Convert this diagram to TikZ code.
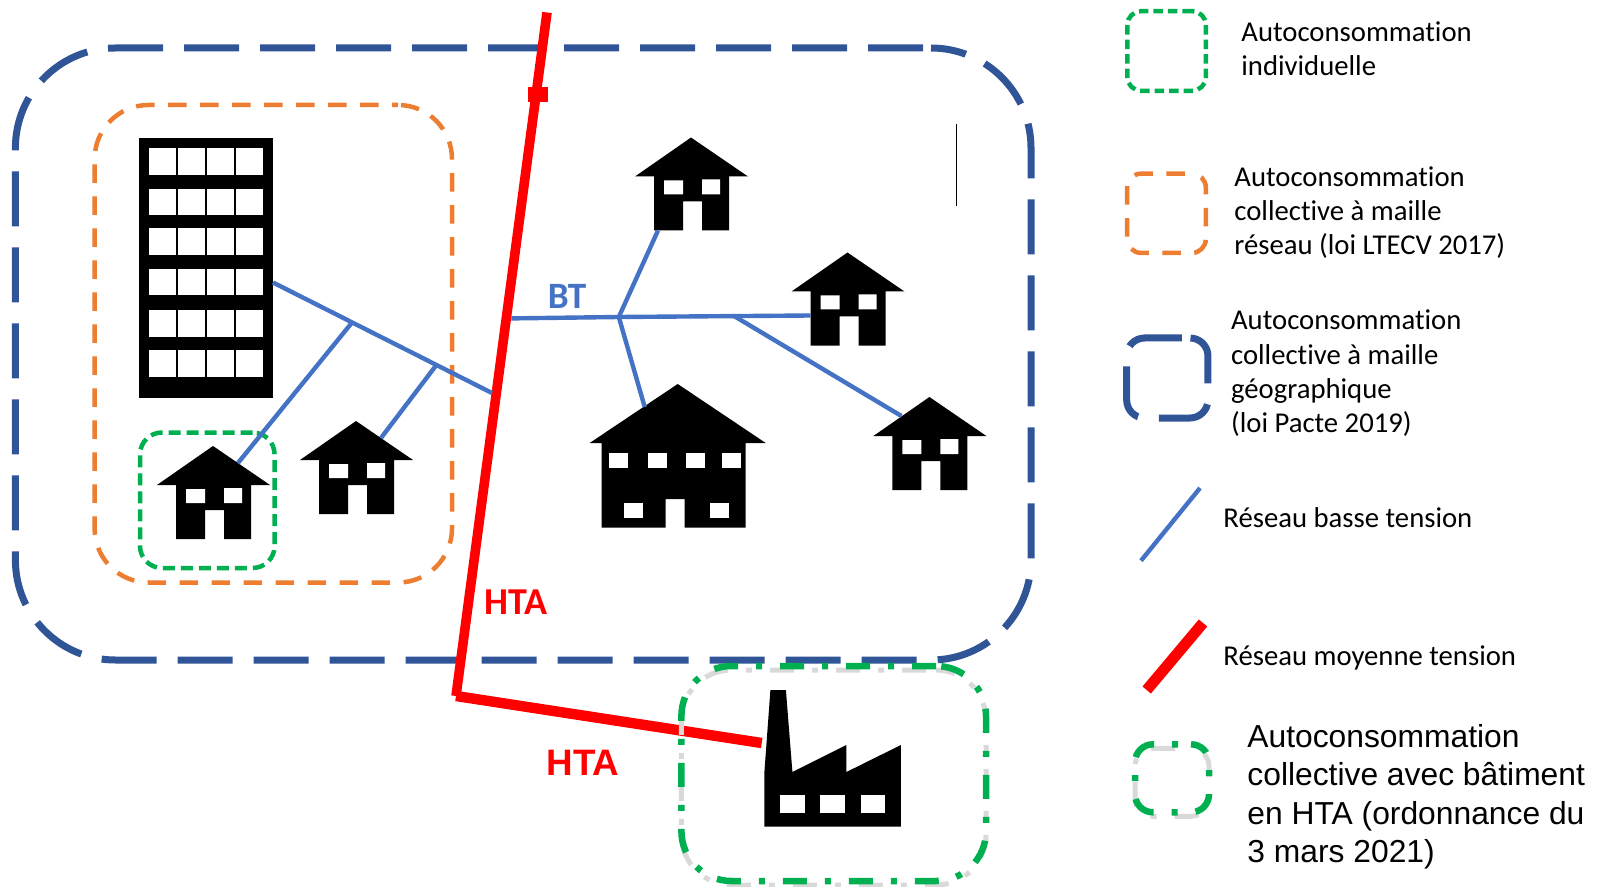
\documentclass[tikz,border=0pt]{standalone}
\usepackage{fontspec}
\setmainfont{Carlito}[Ligatures=NoCommon]
\newfontfamily\arialfont{Liberation Sans}
\definecolor{geoblue}{HTML}{2F5597}
\definecolor{netorange}{HTML}{ED7D31}
\definecolor{selfgreen}{HTML}{00B050}
\definecolor{btblue}{HTML}{4472C4}

\begin{document}
\begin{tikzpicture}[
    x=0.5pt, y=-0.5pt,
    zone/.style={rectangle, inner sep=0pt, outer sep=0pt},
    geozone/.style={zone, draw=geoblue, line width=3.5pt, rounded corners=50pt, dash pattern=on 27.5pt off 10.5pt, dash phase=34pt},
    netzone/.style={zone, draw=netorange, line width=2.25pt, rounded corners=27pt, dash pattern=on 9.25pt off 6.75pt, dash phase=6.25pt},
    indzone/.style={zone, draw=selfgreen, line width=2.25pt, rounded corners=11pt, dash pattern=on 6pt off 3pt},
    htazone/.style 2 args={zone, draw=selfgreen, line width=3.25pt, rounded corners=25pt,
        preaction={draw=gray!30, line width=2.5pt, dash pattern=on 12pt off 9pt on 3pt off 9pt, dash phase=#2, transform canvas={yshift=-2pt}},
        dash pattern=on 12pt off 9pt on 3pt off 9pt, dash phase=#1},
    bt/.style={draw=btblue, line width=2.2pt},
    hta/.style={draw=red, line width=4.8pt},
    keytext/.style={inner sep=0pt, anchor=north west, align=left, font=\fontsize{14.35pt}{17.2pt}\selectfont},
    arialtext/.style={inner sep=0pt, anchor=north west, align=left, font=\arialfont\fontsize{15.9pt}{19.2pt}\selectfont},
    house/.pic={
        \fill (0,0) -- (57,39) -- (38,39) -- (38,93) -- (11,93) -- (11,64) -- (-8,64) -- (-8,93) -- (-37,93) -- (-37,39) -- (-56,39) -- cycle;
        \fill[white] (-27,43) rectangle (-8,57) (11,42) rectangle (29,57);
        \coordinate (-rroof) at (25,17);
        \coordinate (-lroof) at (-28,19);
        \coordinate (-base) at (-33,93);
        \coordinate (-side) at (-37,63);
    },
    bighouse/.pic={
        \fill (0,0) -- (88,59) -- (68,59) -- (68,143.5) -- (7,143.5) -- (7,115) -- (-12,115) -- (-12,143.5) -- (-76,143.5) -- (-76,59) -- (-88,59) -- cycle;
        \foreach \wx in {-69,-30,8,44}
            \fill[white] (\wx,69) rectangle +(19,15);
        \foreach \wx in {-54,32}
            \fill[white] (\wx,118.5) rectangle +(19,15);
        \coordinate (-lroof) at (-33,23);
    },
    factory/.pic={
        \fill (6,0) -- (21.5,0) -- (28,82) -- (82,55) -- (82,82) -- (136.5,55) -- (136.5,136.7) -- (0,136.7) -- (0,82) -- cycle;
        \foreach \wx in {16,56,96.5}
            \fill[white] (\wx,105) rectangle +(24.5,18.3);
        \coordinate (-inlet) at (-2.7,53);
    }
]
\useasboundingbox (0,0) rectangle (1604,887);

% Zones
\node[geozone, minimum width=507.8pt, minimum height=306pt] (geoZone) at (523.2,354) {};
\node[netzone, minimum width=178.7pt, minimum height=238.75pt] (netZone) at (273.3,343.75) {};

% Red line
\coordinate (htaTop) at (547,12.5);
\coordinate (htaBend) at (456,696);
\draw[hta] (htaTop) -- (htaBend);
\node[fill=red, zone, minimum width=10pt, minimum height=7.2pt] (htaTab) at (537.5,94.7) {};

% Buildings
\node[zone, fill=black, minimum width=67pt, minimum height=129.75pt] (tower) at (206,268.25) {};
\foreach \wy in {148.5,189,228.5,269,310.5,350}
    \foreach \wx in {148.6,178,207,236}
        \fill[white] (\wx,\wy) rectangle +(27,26.5);
\pic (houseA) at (213,446) {house};
\pic (houseB) at (356,421) {house};
\pic (houseC) at (691,137.5) {house};
\pic (houseD) at (847.5,252.5) {house};
\pic (houseE) at (929.4,397) {house};
\pic (houseBig) at (677.7,384) {bighouse};
\pic (plant) at (764.4,690) {factory};

\node[indzone, minimum width=67.3pt, minimum height=67.75pt] (selfZone) at (207.3,500.25) {};

% Low voltage lines
\coordinate (btLeft) at (492,393);
\coordinate (btRight) at (511.4,318.4);
\coordinate (joinA) at (352,322.5);
\coordinate (joinB) at (436.4,365);
\coordinate (joinC) at (618.8,317);
\coordinate (joinD) at (734,316);
\draw[bt] (tower.-12) -- (btLeft);
\draw[bt] (joinA) -- (houseA-rroof);
\draw[bt] (joinB) -- (houseB-rroof);
\draw[bt] (btRight) -- (joinC) -- (houseD-side);
\draw[bt] (joinC) -- (houseC-base);
\draw[bt] (joinC) -- (houseBig-lroof);
\draw[bt] (joinD) -- (houseE-lroof);

% Line to the plant
\draw[hta, line width=5.2pt, preaction={draw=gray!35, transform canvas={yshift=-1.5pt}}] (htaBend) -- (plant-inlet);
\node[htazone={0pt}{28pt}, minimum width=152.3pt, minimum height=107.5pt] (plantZone) at (833.7,773.5) {};

% Labels
\node[text=btblue, font=\bfseries\fontsize{18.6pt}{20pt}\selectfont, inner sep=0pt] (btLabel) at (567,296) {BT};
\node[text=red, font=\bfseries\fontsize{19pt}{20pt}\selectfont, inner sep=0pt] (htaLabelA) at (516,602) {HTA};
\node[text=red, font=\arialfont\bfseries\fontsize{18.4pt}{20pt}\selectfont, inner sep=0pt] (htaLabelB) at (583,763) {HTA};

% Stray mark
\coordinate (markTop) at (956.3,124);
\coordinate (markEnd) at (956.3,206);
\draw[black, line width=0.5pt] (markTop) -- (markEnd);

% Legend
\node[indzone, rounded corners=7pt, dash pattern=on 4.75pt off 2.5pt, minimum width=39.35pt, minimum height=39.85pt] (keyInd) at (1166.6,51) {};
\node[netzone, rounded corners=7pt, dash phase=12.5pt, minimum width=39.35pt, minimum height=39.65pt] (keyNet) at (1166.5,213.3) {};
\node[geozone, rounded corners=9pt, minimum width=40.65pt, minimum height=40pt] (keyGeo) at (1167.3,378) {};
\coordinate (keyBtA) at (1200,488);
\coordinate (keyBtB) at (1141,560.7);
\draw[bt] (keyBtA) -- (keyBtB);
\coordinate (keyHtaA) at (1203,623);
\coordinate (keyHtaB) at (1146.7,690);
\draw[hta, line width=5.5pt] (keyHtaA) -- (keyHtaB);
\node[htazone={14.5pt}{25pt}, rounded corners=9pt, minimum width=37pt, minimum height=34pt] (keyPlant) at (1172,778.3) {};

\node[keytext] (txtInd) at (1241,21) {Autoconsommation\\individuelle};
\node[keytext] (txtNet) at (1234,166) {Autoconsommation\\collective à maille\\réseau (loi LTECV 2017)};
\node[keytext] (txtGeo) at (1230.7,309.5) {Autoconsommation\\collective à maille\\géographique\\(loi Pacte 2019)};
\node[keytext] (txtBt) at (1223,507) {Réseau basse tension};
\node[keytext] (txtHta) at (1223,645.5) {Réseau moyenne tension};
\node[arialtext] (txtPlant) at (1247,724) {Autoconsommation\\collective avec bâtiment\\en HTA (ordonnance du\\3 mars 2021)};

\end{tikzpicture}
\end{document}
